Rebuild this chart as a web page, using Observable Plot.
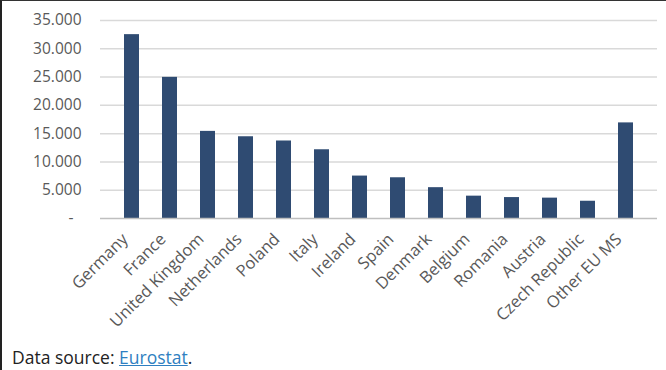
<!DOCTYPE html>
<html>
<head>
<meta charset="utf-8">
<script src="https://cdn.jsdelivr.net/npm/d3@7"></script>
<script src="https://cdn.jsdelivr.net/npm/@observablehq/plot@0.6"></script>
<style>
  html, body { margin: 0; padding: 0; background: #fff; }
  body { width: 664px; height: 369px; border-top: 1px solid #333; border-left: 2px solid #222; overflow: hidden; font-family: "Open Sans", sans-serif; }
  #chart svg { display: block; }
  .caption { font-size: 17.5px; color: #222; margin: 10px 0 0 10px; line-height: 24px; }
  .caption a { color: #2f7fc1; text-decoration: underline; }
</style>
</head>
<body>
<div id="chart"></div>
<div class="caption">Data source: <a href="#">Eurostat</a>.</div>
<script>
const countries = ["Germany", "France", "United Kingdom", "Netherlands", "Poland", "Italy", "Ireland", "Spain", "Denmark", "Belgium", "Romania", "Austria", "Czech Republic", "Other EU MS"];
const values = [32500, 24950, 15400, 14450, 13700, 12150, 7500, 7200, 5450, 3950, 3700, 3600, 3050, 16900];
const yTicks = [0, 5000, 10000, 15000, 20000, 25000, 30000, 35000];

const data = countries.map((c, i) => ({country: c, value: values[i]}));
const fmt = d => d === 0 ? "-\u00a0\u00a0" : d3.format(",")(d).replace(/,/g, ".");

const chart = Plot.plot({
  width: 664,
  height: 334,
  marginLeft: 98,
  marginRight: 9,
  marginTop: 19,
  marginBottom: 117,
  style: {fontFamily: "Open Sans, sans-serif", color: "#595959", background: "white"},
  x: {domain: countries, padding: 0.6, label: null},
  y: {domain: [0, 35000], label: null},
  marks: [
    Plot.ruleY(yTicks.filter(d => d > 0), {stroke: "#d9d9d9", strokeWidth: 1.5}),
    Plot.barY(data, {x: "country", y: "value", fill: "#2f4b72"}),
    Plot.ruleY([0], {stroke: "#bfbfbf", strokeWidth: 1.5}),
    Plot.axisY({ticks: yTicks, tickFormat: fmt, tickSize: 0, tickPadding: 19, fontSize: 15.5, fill: "#595959", label: null}),
    Plot.axisX({tickSize: 0, tickPadding: 11, tickRotate: -45, fontSize: 16.5, dx: -7, dy: 7, fill: "#595959", label: null})
  ]
});
document.getElementById("chart").appendChild(chart);
</script>
</body>
</html>
